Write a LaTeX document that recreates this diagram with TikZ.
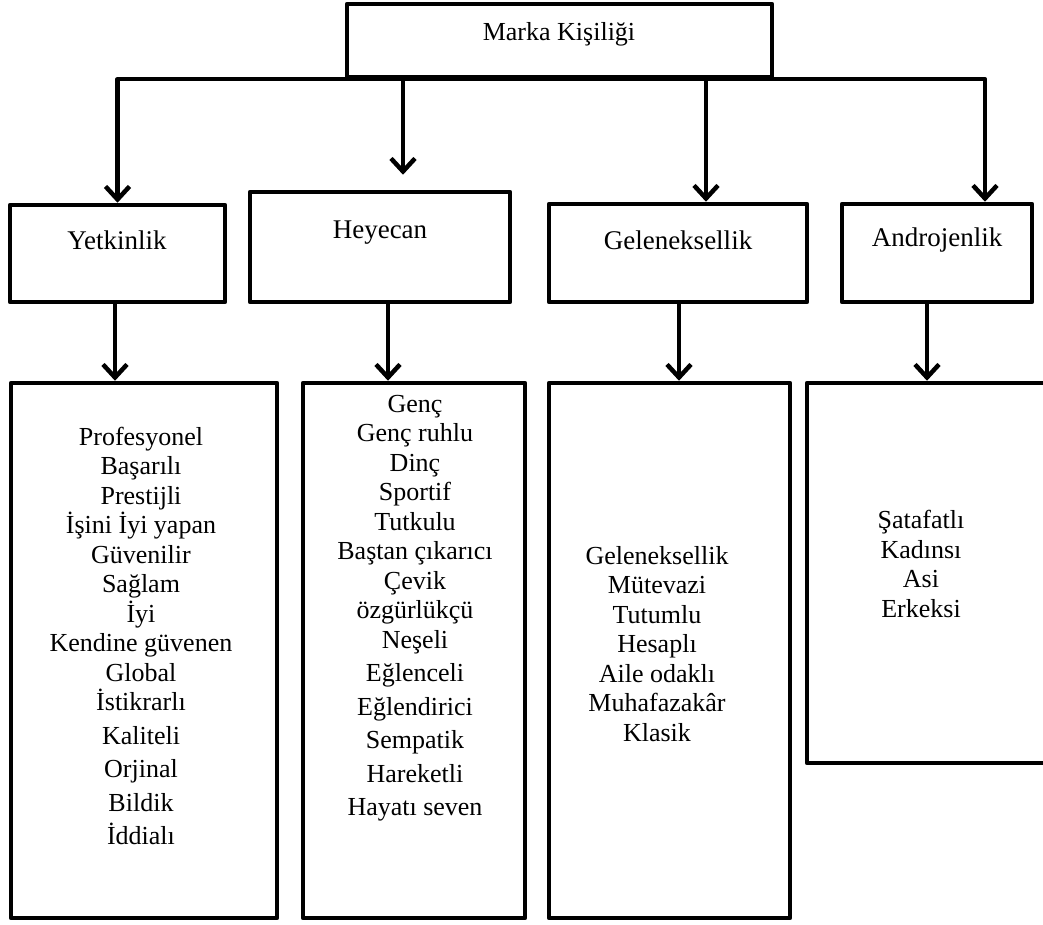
\documentclass[tikz,border=0pt]{standalone}
\usepackage{fontspec}
\setmainfont{Liberation Serif}
\usetikzlibrary{arrows.meta}
\begin{document}
\begin{tikzpicture}[x=1pt,y=-1pt,
  frame/.style={draw, line width=4.5pt, line join=round, inner sep=0pt},
  link/.style={line width=4.5pt, line join=round},
  arr/.style={link, -{Straight Barb[length=13pt,width=24pt,line width=4.5pt]}},
  toptext/.style={font=\fontsize{26}{30}\selectfont, inner sep=0pt},
  cattext/.style={font=\fontsize{27}{32}\selectfont, inner sep=0pt},
  listtext/.style={font=\fontsize{26}{29.5}\selectfont, align=center, inner sep=0pt},
]
\useasboundingbox (0,0) rectangle (1043,925);
\fill[white] (0,0) rectangle (1043,925);

% root box
\node[frame, minimum width=425pt, minimum height=73pt] (root) at (559.5,40.5) {};
\node[toptext] (rootlabel) at (559,34) {Marka Kişiliği};

% category boxes
\node[frame, minimum width=215pt, minimum height=97pt] (ycat) at (117.5,253.5) {};
\node[frame, minimum width=260pt, minimum height=110pt] (hcat) at (380,247) {};
\node[frame, minimum width=258pt, minimum height=98pt] (gcat) at (678,253) {};
\node[frame, minimum width=190pt, minimum height=98pt] (acat) at (937,253) {};
\node[cattext] (ylabel) at (117,240) {Yetkinlik};
\node[cattext] (hlabel) at (380,233) {Heyecan};
\node[cattext] (glabel) at (678,240) {Geleneksellik};
\node[cattext] (alabel) at (937,240) {Androjenlik};

% trait boxes
\node[frame, minimum width=266pt, minimum height=535pt] (ylist) at (144,650.5) {};
\node[frame, minimum width=222pt, minimum height=535pt] (hlist) at (414,650.5) {};
\node[frame, minimum width=241pt, minimum height=535pt] (glist) at (669.5,650.5) {};
\node[frame, minimum width=263pt, minimum height=380pt] (alist) at (938.5,573) {};

\node[listtext] (ytraits) at (141,636) {Profesyonel\\Başarılı\\Prestijli\\İşini İyi yapan\\Güvenilir\\Sağlam\\İyi\\Kendine güvenen\\Global\\İstikrarlı\\[4pt]Kaliteli\\[4pt]Orjinal\\[4pt]Bildik\\[4pt]İddialı};
\node[listtext] (htraits) at (415,608) {Genç\\Genç ruhlu\\Dinç\\Sportif\\Tutkulu\\Baştan çıkarıcı\\Çevik\\özgürlükçü\\Neşeli\\[4pt]Eğlenceli\\[4pt]Eğlendirici\\[4pt]Sempatik\\[4pt]Hareketli\\[4pt]Hayatı seven};
\node[listtext] (gtraits) at (657,644) {Geleneksellik\\Mütevazi\\Tutumlu\\Hesaplı\\Aile odaklı\\Muhafazakâr\\Klasik};
\node[listtext] (atraits) at (921,564) {Şatafatlı\\Kadınsı\\Asi\\Erkeksi};

% connectors from the root
\draw[arr] (root.south) -| (ycat.north);
\draw[arr] (root.south) -| ([xshift=48pt]acat.north);
\draw[arr] (root.south) -| ([xshift=23pt,yshift=15pt]hcat.north);
\draw[arr] (root.south) -| ([xshift=28pt]gcat.north);

% connectors from categories to traits
\draw[arr] ([xshift=-2.5pt]ycat.south) -- ([xshift=-2.5pt]ycat.south |- ylist.north);
\draw[arr] ([xshift=8pt]hcat.south) -- ([xshift=8pt]hcat.south |- hlist.north);
\draw[arr] ([xshift=1pt]gcat.south) -- ([xshift=1pt]gcat.south |- glist.north);
\draw[arr] ([xshift=-10pt]acat.south) -- ([xshift=-10pt]acat.south |- alist.north);
\end{tikzpicture}
\end{document}
